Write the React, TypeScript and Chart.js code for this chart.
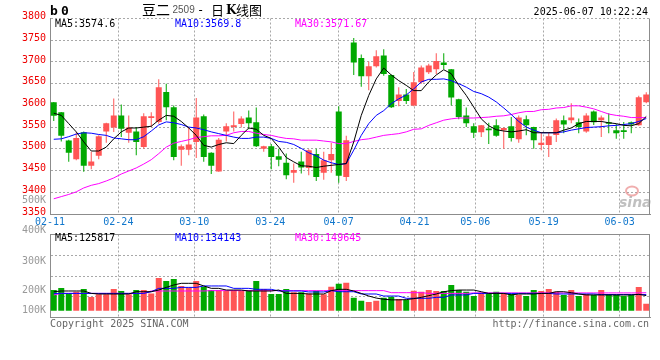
import React, { useEffect, useRef } from "react";
import { Chart, registerables } from "chart.js";
Chart.register(...registerables);

// ---- data ----
const opens = [3607,3584,3519,3476,3538,3461,3484,3540,3549,3577,
3537,3540,3504,3571,3562,3631,3596,3498,3498,3516,
3575,3491,3448,3540,3550,3557,3572,3561,3500,3506,
3483,3468,3445,3471,3456,3488,3445,3474,3586,3435,
3745,3709,3667,3690,3715,3670,3610,3625,3600,3653,
3676,3683,3699,3683,3614,3577,3552,3538,3547,3554,
3543,3552,3522,3568,3550,3509,3509,3532,3566,3566,
3561,3540,3586,3566,3561,3543,3543,3561,3554,3607];
const highs = [3608,3585,3521,3538,3540,3493,3531,3560,3616,3602,
3577,3550,3582,3584,3660,3650,3600,3510,3550,3617,
3579,3492,3525,3559,3586,3575,3588,3595,3507,3511,
3500,3489,3466,3493,3499,3500,3493,3514,3598,3530,
3755,3717,3701,3727,3729,3671,3642,3638,3677,3692,
3696,3720,3720,3684,3615,3595,3559,3555,3560,3568,
3549,3573,3577,3577,3551,3539,3539,3570,3577,3605,
3570,3582,3588,3577,3582,3557,3562,3563,3622,3630];
const lows = [3564,3517,3470,3474,3447,3453,3476,3514,3539,3527,
3514,3485,3500,3550,3558,3566,3474,3461,3485,3479,
3470,3442,3447,3517,3540,3549,3545,3504,3493,3453,
3460,3430,3422,3443,3439,3426,3429,3445,3422,3426,
3670,3643,3635,3687,3668,3594,3598,3603,3598,3650,
3672,3672,3683,3600,3568,3550,3525,3527,3511,3528,
3500,3517,3514,3531,3500,3497,3481,3516,3536,3559,
3536,3537,3555,3527,3536,3523,3523,3536,3553,3605];
const closes = [3576,3530,3491,3525,3461,3471,3529,3559,3577,3546,
3549,3516,3575,3575,3642,3596,3481,3506,3510,3572,
3481,3461,3521,3552,3554,3570,3559,3506,3506,3481,
3475,3439,3451,3457,3497,3435,3474,3488,3438,3520,
3699,3667,3690,3713,3672,3596,3625,3610,3653,3687,
3692,3702,3693,3618,3573,3559,3537,3554,3543,3530,
3548,3525,3572,3554,3520,3514,3529,3566,3556,3572,
3550,3577,3561,3572,3558,3536,3539,3556,3619,3625];
const ma5 = [3582,3577,3558,3539,3516,3495,3495,3504,3523,3539,
3548,3548,3550,3552,3566,3577,3575,3563,3548,3531,
3508,3504,3510,3514,3512,3531,3548,3545,3531,3524,
3504,3480,3470,3461,3460,3457,3460,3462,3464,3466,
3516,3577,3623,3661,3686,3670,3657,3646,3634,3634,
3654,3670,3682,3673,3646,3623,3596,3569,3553,3544,
3541,3539,3541,3544,3537,3537,3537,3537,3543,3548,
3558,3563,3563,3563,3560,3558,3554,3553,3558,3574.6];
const ma10 = [3522,3523,3528,3534,3537,3536,3533,3531,3525,3523,
3521,3521,3528,3541,3555,3562,3560,3556,3550,3548,
3544,3539,3535,3531,3527,3524,3524,3527,3527,3524,
3517,3515,3510,3501,3491,3484,3474,3468,3464,3466,
3497,3531,3558,3577,3588,3604,3615,3624,3638,3654,
3660,3660,3661,3657,3650,3642,3632,3627,3619,3608,
3594,3579,3563,3550,3543,3537,3537,3537,3539,3543,
3546,3549,3550,3551,3553,3554,3556,3558,3563,3569.8];
const ma30 = [3385,3390,3395,3401,3410,3416,3420,3426,3433,3442,
3449,3456,3465,3475,3489,3504,3513,3517,3521,3526,
3528,3530,3530,3531,3537,3540,3540,3536,3533,3531,
3527,3524,3523,3520,3520,3520,3518,3516,3512,3512,
3517,3521,3523,3527,3531,3533,3535,3539,3545,3546,
3554,3560,3566,3569,3571,3571,3571,3572,3573,3575,
3576,3579,3583,3586,3586,3590,3591,3594,3595,3599,
3599,3596,3592,3586,3580,3577,3575,3572,3572,3571.67];
// volumes in thousands of lots
const volumesK = [172,189,144,158,181,114,136,136,181,164,
136,172,172,144,272,247,264,206,194,247,
200,172,172,164,172,164,172,247,181,139,
139,181,153,153,144,167,136,200,225,233,
108,83,72,83,108,117,97,89,167,158,
172,164,164,214,172,158,122,150,144,158,
144,139,133,122,172,164,181,158,130,172,
122,139,130,172,139,130,122,130,197,58];
const volMa5K = [158,164,164,164,164,144,139,139,139,139,
139,158,158,158,172,194,214,228,228,228,
206,186,186,172,172,172,164,164,164,164,
172,144,144,144,139,139,139,167,178,178,
164,144,122,105,95,90,90,92,100,111,
125,139,158,167,172,172,172,158,144,144,
144,131,139,139,139,144,144,158,158,150,
139,131,131,131,131,131,131,131,136,125.817];
const volMa10K = [144,144,144,144,144,144,144,144,144,144,
144,144,144,158,186,186,186,194,194,194,
206,206,206,206,186,186,186,178,178,178,
164,164,164,164,156,156,156,167,158,158,
158,139,139,139,122,122,122,103,103,103,
103,111,111,131,131,131,144,144,144,144,
144,144,144,144,144,144,144,139,139,139,
139,139,139,134,134,134,134,134,134,134.143];
const volMa30K = [131,144,144,144,144,144,144,144,144,144,
144,144,144,164,164,164,164,164,164,164,
164,167,167,167,167,167,167,167,167,167,
167,167,167,167,167,167,167,167,167,167,
167,167,167,167,167,150,150,150,150,150,
144,144,144,144,144,144,148,148,148,148,
148,148,148,148,148,148,148,148,148,148,
148,148,148,148,148,148,148,148,148,149.645];
const dateTickLabels = ["02-11","02-24","03-10","03-24","04-07","04-21","05-06","05-19","06-03"];
const dateTickIdx = [0,9,19,29,38,48,56,65,75];
const volAxisLabels = ["500K","400K","300K","200K","100K"];

const UP = "#ff5555";
const DOWN = "#00a800";
const GRID = "#a8a8a8";
const BORDER = "#8c8c8c";
const MONO = '"DejaVu Sans Mono"';

function text(ctx: any, s: string, x: number, y: number, color: string, font: string, align = "left", baseline = "middle") {
  ctx.save();
  ctx.fillStyle = color;
  ctx.font = font;
  ctx.textAlign = align;
  ctx.textBaseline = baseline;
  ctx.fillText(s, x, y);
  ctx.restore();
}

const last = (a: number[]) => a[a.length - 1];

export default function App() {
  const priceRef = useRef<HTMLCanvasElement>(null);
  const volRef = useRef<HTMLCanvasElement>(null);

  useEffect(() => {
    Chart.defaults.font.family = MONO;
    const labels = closes.map((_, i) => String(i));
    const colors = closes.map((c, i) => (c >= opens[i] ? UP : DOWN));
    const lineDs = (data: number[], color: string) => ({
      type: "line" as const,
      data,
      borderColor: color,
      borderWidth: 1,
      pointRadius: 0,
      tension: 0,
      order: 0,
      xAxisID: "x",
      yAxisID: "y",
    });
    const dateAxis = (showLabels: boolean, h: number) => ({
      type: "linear",
      position: "bottom",
      offset: false,
      bounds: "data",
      min: 0,
      max: 79,
      afterBuildTicks: (s: any) => {
        s.ticks = dateTickIdx.map((v) => ({ value: v }));
      },
      afterFit: (s: any) => {
        s.height = h;
        s.paddingLeft = 0;
        s.paddingRight = 0;
      },
      ticks: {
        display: showLabels,
        autoSkip: false,
        maxRotation: 0,
        minRotation: 0,
        padding: 2,
        color: "#1177cc",
        font: { family: MONO, size: 10 },
        callback: (v: any) => {
          const k = dateTickIdx.indexOf(Number(v));
          return k >= 0 ? dateTickLabels[k] : "";
        },
      },
      grid: {
        offset: false,
        drawTicks: false,
        color: (c: any) => (c.tick && c.tick.value === 0 ? "rgba(0,0,0,0)" : GRID),
      },
      border: { color: BORDER, dash: [2, 2] },
    });

    const pricePlugin = {
      id: "priceDeco",
      afterDraw(chart: any) {
        const ctx = chart.ctx;
        const { right, top, bottom } = chart.chartArea;
        ctx.save();
        ctx.strokeStyle = BORDER;
        ctx.lineWidth = 1;
        ctx.beginPath();
        ctx.moveTo(right - 0.5, top);
        ctx.lineTo(right - 0.5, bottom);
        ctx.stroke();
        ctx.restore();
        // header
        text(ctx, "b", 50, 15, "#000", `bold 13px ${MONO}`, "left", "alphabetic");
        text(ctx, "0", 61, 15, "#000", `bold 13px ${MONO}`, "left", "alphabetic");
        text(ctx, "豆二", 142, 10, "#000", '14px "Noto Sans CJK SC"');
        text(ctx, "2509", 172.5, 10.5, "#555", '10px "Liberation Sans"');
        text(ctx, "-", 197, 10.5, "#000", `12px ${MONO}`);
        text(ctx, "日", 211, 10, "#000", '13px "Noto Sans CJK SC"');
        text(ctx, "K", 226, 10.5, "#000", 'bold 12px "DejaVu Serif"');
        text(ctx, "线图", 236, 10, "#000", '13px "Noto Sans CJK SC"');
        text(ctx, "2025-06-07 10:22:24", 648, 12, "#000", `10px ${MONO}`, "right");
        // MA legend
        text(ctx, `MA5:${last(ma5)}`, 55, 24, "#000", `10px ${MONO}`);
        text(ctx, `MA10:${last(ma10)}`, 175, 24, "#0000ff", `10px ${MONO}`);
        text(ctx, `MA30:${last(ma30)}`, 295, 24, "#ff00ff", `10px ${MONO}`);
        // sina watermark
        ctx.save();
        ctx.strokeStyle = "rgba(230,120,120,0.6)";
        ctx.lineWidth = 2;
        ctx.beginPath();
        ctx.ellipse(632, 191, 6, 4.5, 0, 0, Math.PI * 2);
        ctx.stroke();
        ctx.restore();
        text(ctx, "sina", 619, 203, "rgba(150,150,150,0.6)", 'italic bold 14px "DejaVu Sans"');
      },
    };

    const price = new Chart(priceRef.current as HTMLCanvasElement, {
      type: "bar",
      data: {
        labels,
        datasets: [
          lineDs(ma5, "#000000"),
          lineDs(ma10, "#0000ff"),
          lineDs(ma30, "#ff00ff"),
          {
            type: "bar",
            data: lows.map((l, i) => [l, highs[i]]),
            backgroundColor: colors,
            barThickness: 1,
            grouped: false,
            inflateAmount: 0,
            order: 2,
            xAxisID: "x",
            yAxisID: "y",
          },
          {
            type: "bar",
            data: opens.map((o, i) => [o, closes[i]]),
            backgroundColor: colors,
            barThickness: 6,
            grouped: false,
            inflateAmount: 0,
            order: 1,
            xAxisID: "x",
            yAxisID: "y",
          },
        ] as any,
      },
      options: {
        responsive: false,
        animation: false,
        devicePixelRatio: 1,
        events: [],
        layout: { padding: { top: 18.5, right: 10, bottom: 0, left: 0 } },
        plugins: { legend: { display: false }, tooltip: { enabled: false } },
        scales: {
          x: { type: "category", display: false, offset: true },
          xd: dateAxis(true, 21),
          y: {
            min: 3350,
            max: 3800,
            afterFit: (s: any) => {
              s.width = 50;
            },
            ticks: {
              stepSize: 50,
              color: "#ee0000",
              font: { family: MONO, size: 10 },
              padding: 4,
              labelOffset: -2,
              callback: (v: any) => String(v),
            },
            grid: { drawTicks: false, color: GRID },
            border: { color: BORDER, dash: [2, 2] },
          },
        } as any,
      },
      plugins: [pricePlugin],
    });

    const VMIN = -57;
    const VMAX = 635;
    const volLabelY = [10, 40.7, 71, 100, 120];
    const volPlugin = {
      id: "volDeco",
      afterDraw(chart: any) {
        const ctx = chart.ctx;
        const { left, right, top, bottom } = chart.chartArea;
        ctx.save();
        ctx.strokeStyle = BORDER;
        ctx.lineWidth = 1;
        ctx.beginPath();
        ctx.moveTo(left, top);
        ctx.lineTo(right, top);
        ctx.moveTo(right - 0.5, top);
        ctx.lineTo(right - 0.5, bottom);
        ctx.stroke();
        ctx.restore();
        volAxisLabels.forEach((s, i) => text(ctx, s, 46, volLabelY[i], "#999999", `10px ${MONO}`, "right"));
        text(ctx, `MA5:${Math.round(last(volMa5K) * 1000)}`, 55, 48.3, "#000", `10px ${MONO}`);
        text(ctx, `MA10:${Math.round(last(volMa10K) * 1000)}`, 175, 48.3, "#0000ff", `10px ${MONO}`);
        text(ctx, `MA30:${Math.round(last(volMa30K) * 1000)}`, 295, 48.3, "#ff00ff", `10px ${MONO}`);
        text(ctx, "Copyright 2025 SINA.COM", 50, 134, "#666666", `10px ${MONO}`);
        text(ctx, "http://finance.sina.com.cn", 649, 134, "#666666", `10px ${MONO}`, "right");
      },
    };

    const vol = new Chart(volRef.current as HTMLCanvasElement, {
      type: "bar",
      data: {
        labels,
        datasets: [
          lineDs(volMa5K, "#000000"),
          lineDs(volMa10K, "#0000ff"),
          lineDs(volMa30K, "#ff00ff"),
          {
            type: "bar",
            data: volumesK,
            backgroundColor: colors,
            barThickness: 6,
            grouped: false,
            inflateAmount: 0,
            order: 1,
            xAxisID: "x",
            yAxisID: "y",
          },
        ] as any,
      },
      options: {
        responsive: false,
        animation: false,
        devicePixelRatio: 1,
        events: [],
        layout: { padding: { top: 44.5, right: 10, bottom: 42.5, left: 0 } },
        plugins: { legend: { display: false }, tooltip: { enabled: false } },
        scales: {
          x: { type: "category", display: false, offset: true },
          xd: dateAxis(false, 0),
          y: {
            min: VMIN,
            max: VMAX,
            afterBuildTicks: (s: any) => {
              s.ticks = [0, 1, 2, 3, 4].map((k) => ({ value: VMIN + (k * (VMAX - VMIN)) / 4 }));
            },
            afterFit: (s: any) => {
              s.width = 50;
            },
            ticks: { display: false },
            grid: { drawTicks: false, color: GRID },
            border: { color: BORDER, dash: [2, 2] },
          },
        } as any,
      },
      plugins: [volPlugin],
    });

    return () => {
      price.destroy();
      vol.destroy();
    };
  }, []);

  return (
    <div style={{ position: "fixed", left: 0, top: 0, width: 660, height: 360, background: "#fff" }}>
      <canvas
        ref={priceRef}
        width={660}
        height={235}
        style={{ position: "absolute", left: 0, top: 0, width: 660, height: 235 }}
      />
      <canvas
        ref={volRef}
        width={660}
        height={170}
        style={{ position: "absolute", left: 0, top: 190, width: 660, height: 170 }}
      />
    </div>
  );
}
